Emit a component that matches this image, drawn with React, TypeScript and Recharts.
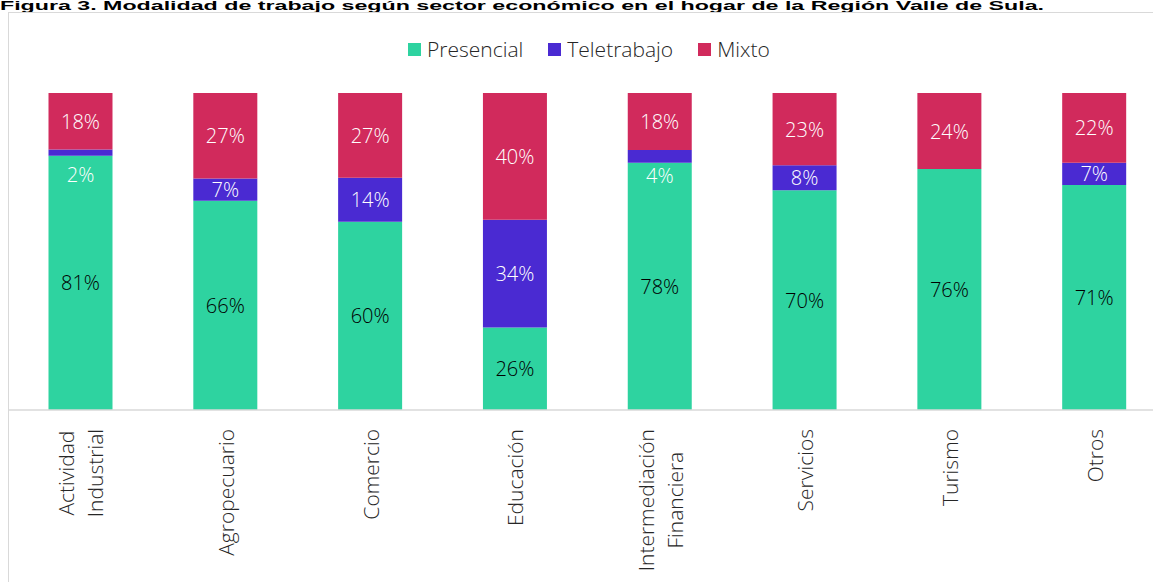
import { Bar, BarChart, LabelList, XAxis, YAxis } from 'recharts'

const categories = [
   'Actividad Industrial',
   'Agropecuario',
   'Comercio',
   'Educación',
   'Intermediación Financiera',
   'Servicios',
   'Turismo',
   'Otros',
]
const presencial = [81, 66, 60, 26, 78, 70, 76, 71]
const teletrabajo = [2, 7, 14, 34, 4, 8, 0, 7]
const mixto = [18, 27, 27, 40, 18, 23, 24, 22]

const seriesNames = ['Presencial', 'Teletrabajo', 'Mixto']
const seriesColors = ['#2ED3A0', '#4A2AD2', '#D12A5C']

const data = categories.map((name, i) => ({
   name,
   presencial: presencial[i],
   teletrabajo: teletrabajo[i],
   mixto: mixto[i],
}))

const FONT = "'Open Sans', sans-serif"
const TEXT = '#262626'

let ctx: CanvasRenderingContext2D | null = null
function measure(t: string) {
   if (!ctx) ctx = document.createElement('canvas').getContext('2d')
   if (!ctx) return t.length * 10
   ctx.font = `300 21px 'Open Sans'`
   return ctx.measureText(t).width
}

function CategoryTick(props: any) {
   const { x, y, payload } = props
   const lines = String(payload.value).split(' ')
   const w = Math.max(...lines.map(measure))
   return (
      <g transform={`translate(${x},${y}) rotate(-90)`}>
         {lines.map((l, i) => (
            <text
               key={i}
               x={-(17 + w / 2)}
               y={(i - (lines.length - 1) / 2) * 29}
               textAnchor="middle"
               dominantBaseline="central"
               fontFamily={FONT}
               fontWeight={300}
               fontSize={21}
               fill={TEXT}
            >
               {l}
            </text>
         ))}
      </g>
   )
}

function makeLabel(color: string, smallBelow: boolean) {
   return (props: any) => {
      const { x, y, width, height, value } = props
      if (!value) return null
      let cy = y + height / 2
      // thin segments: the label sits just under the segment
      if (smallBelow && value < 5) cy = y + 25
      return (
         <text
            x={x + width / 2}
            y={cy}
            textAnchor="middle"
            dominantBaseline="central"
            fontFamily={FONT}
            fontWeight={300}
            fontSize={20}
            fill={color}
         >
            {`${value}%`}
         </text>
      )
   }
}

export default function App() {
   return (
      <div
         style={{
            position: 'absolute',
            left: 0,
            top: 0,
            width: 1153,
            height: 582,
            overflow: 'hidden',
            background: '#fff',
         }}
      >
         <svg width={1153} height={12} style={{ position: 'absolute', left: 0, top: 0 }}>
            <text
               x={0}
               y={9.5}
               fontFamily="'Liberation Sans', Arial, sans-serif"
               fontWeight={700}
               fontSize={12}
               fill="#000"
               textLength={1044}
               lengthAdjust="spacingAndGlyphs"
            >
               Figura 3. Modalidad de trabajo según sector económico en el hogar de la Región Valle de Sula.
            </text>
         </svg>
         <div
            style={{
               position: 'absolute',
               left: 8,
               top: 12,
               width: 1200,
               height: 620,
               border: '1.5px solid #d9d9d9',
            }}
         />
         <div
            style={{
               position: 'absolute',
               left: 408,
               top: 35,
               display: 'flex',
               alignItems: 'center',
               fontFamily: FONT,
               fontWeight: 300,
               fontSize: 21,
               color: TEXT,
               lineHeight: '28px',
            }}
         >
            {seriesNames.map((n, i) => (
               <div key={n} style={{ display: 'flex', alignItems: 'center', marginRight: 25 }}>
                  <span
                     style={{
                        display: 'inline-block',
                        width: 13,
                        height: 13,
                        background: seriesColors[i],
                        marginRight: 6,
                     }}
                  />
                  <span>{n}</span>
               </div>
            ))}
         </div>
         <div style={{ position: 'absolute', left: 0, top: 0 }}>
            <BarChart
               width={1176}
               height={582}
               data={data}
               stackOffset="expand"
               margin={{ top: 93, right: 9, left: 8.5, bottom: 0 }}
               barSize={64}
            >
               <XAxis
                  dataKey="name"
                  height={172}
                  interval={0}
                  tickLine={false}
                  tickSize={0}
                  axisLine={{ stroke: '#d9d9d9', strokeWidth: 1.5 }}
                  tick={<CategoryTick />}
               />
               <YAxis hide domain={[0, 1]} />
               <Bar dataKey="presencial" stackId="a" fill={seriesColors[0]} isAnimationActive={false}>
                  <LabelList dataKey="presencial" content={makeLabel('#000', false)} />
               </Bar>
               <Bar dataKey="teletrabajo" stackId="a" fill={seriesColors[1]} isAnimationActive={false}>
                  <LabelList dataKey="teletrabajo" content={makeLabel('#fff', true)} />
               </Bar>
               <Bar dataKey="mixto" stackId="a" fill={seriesColors[2]} isAnimationActive={false}>
                  <LabelList dataKey="mixto" content={makeLabel('#fff', false)} />
               </Bar>
            </BarChart>
         </div>
      </div>
   )
}
